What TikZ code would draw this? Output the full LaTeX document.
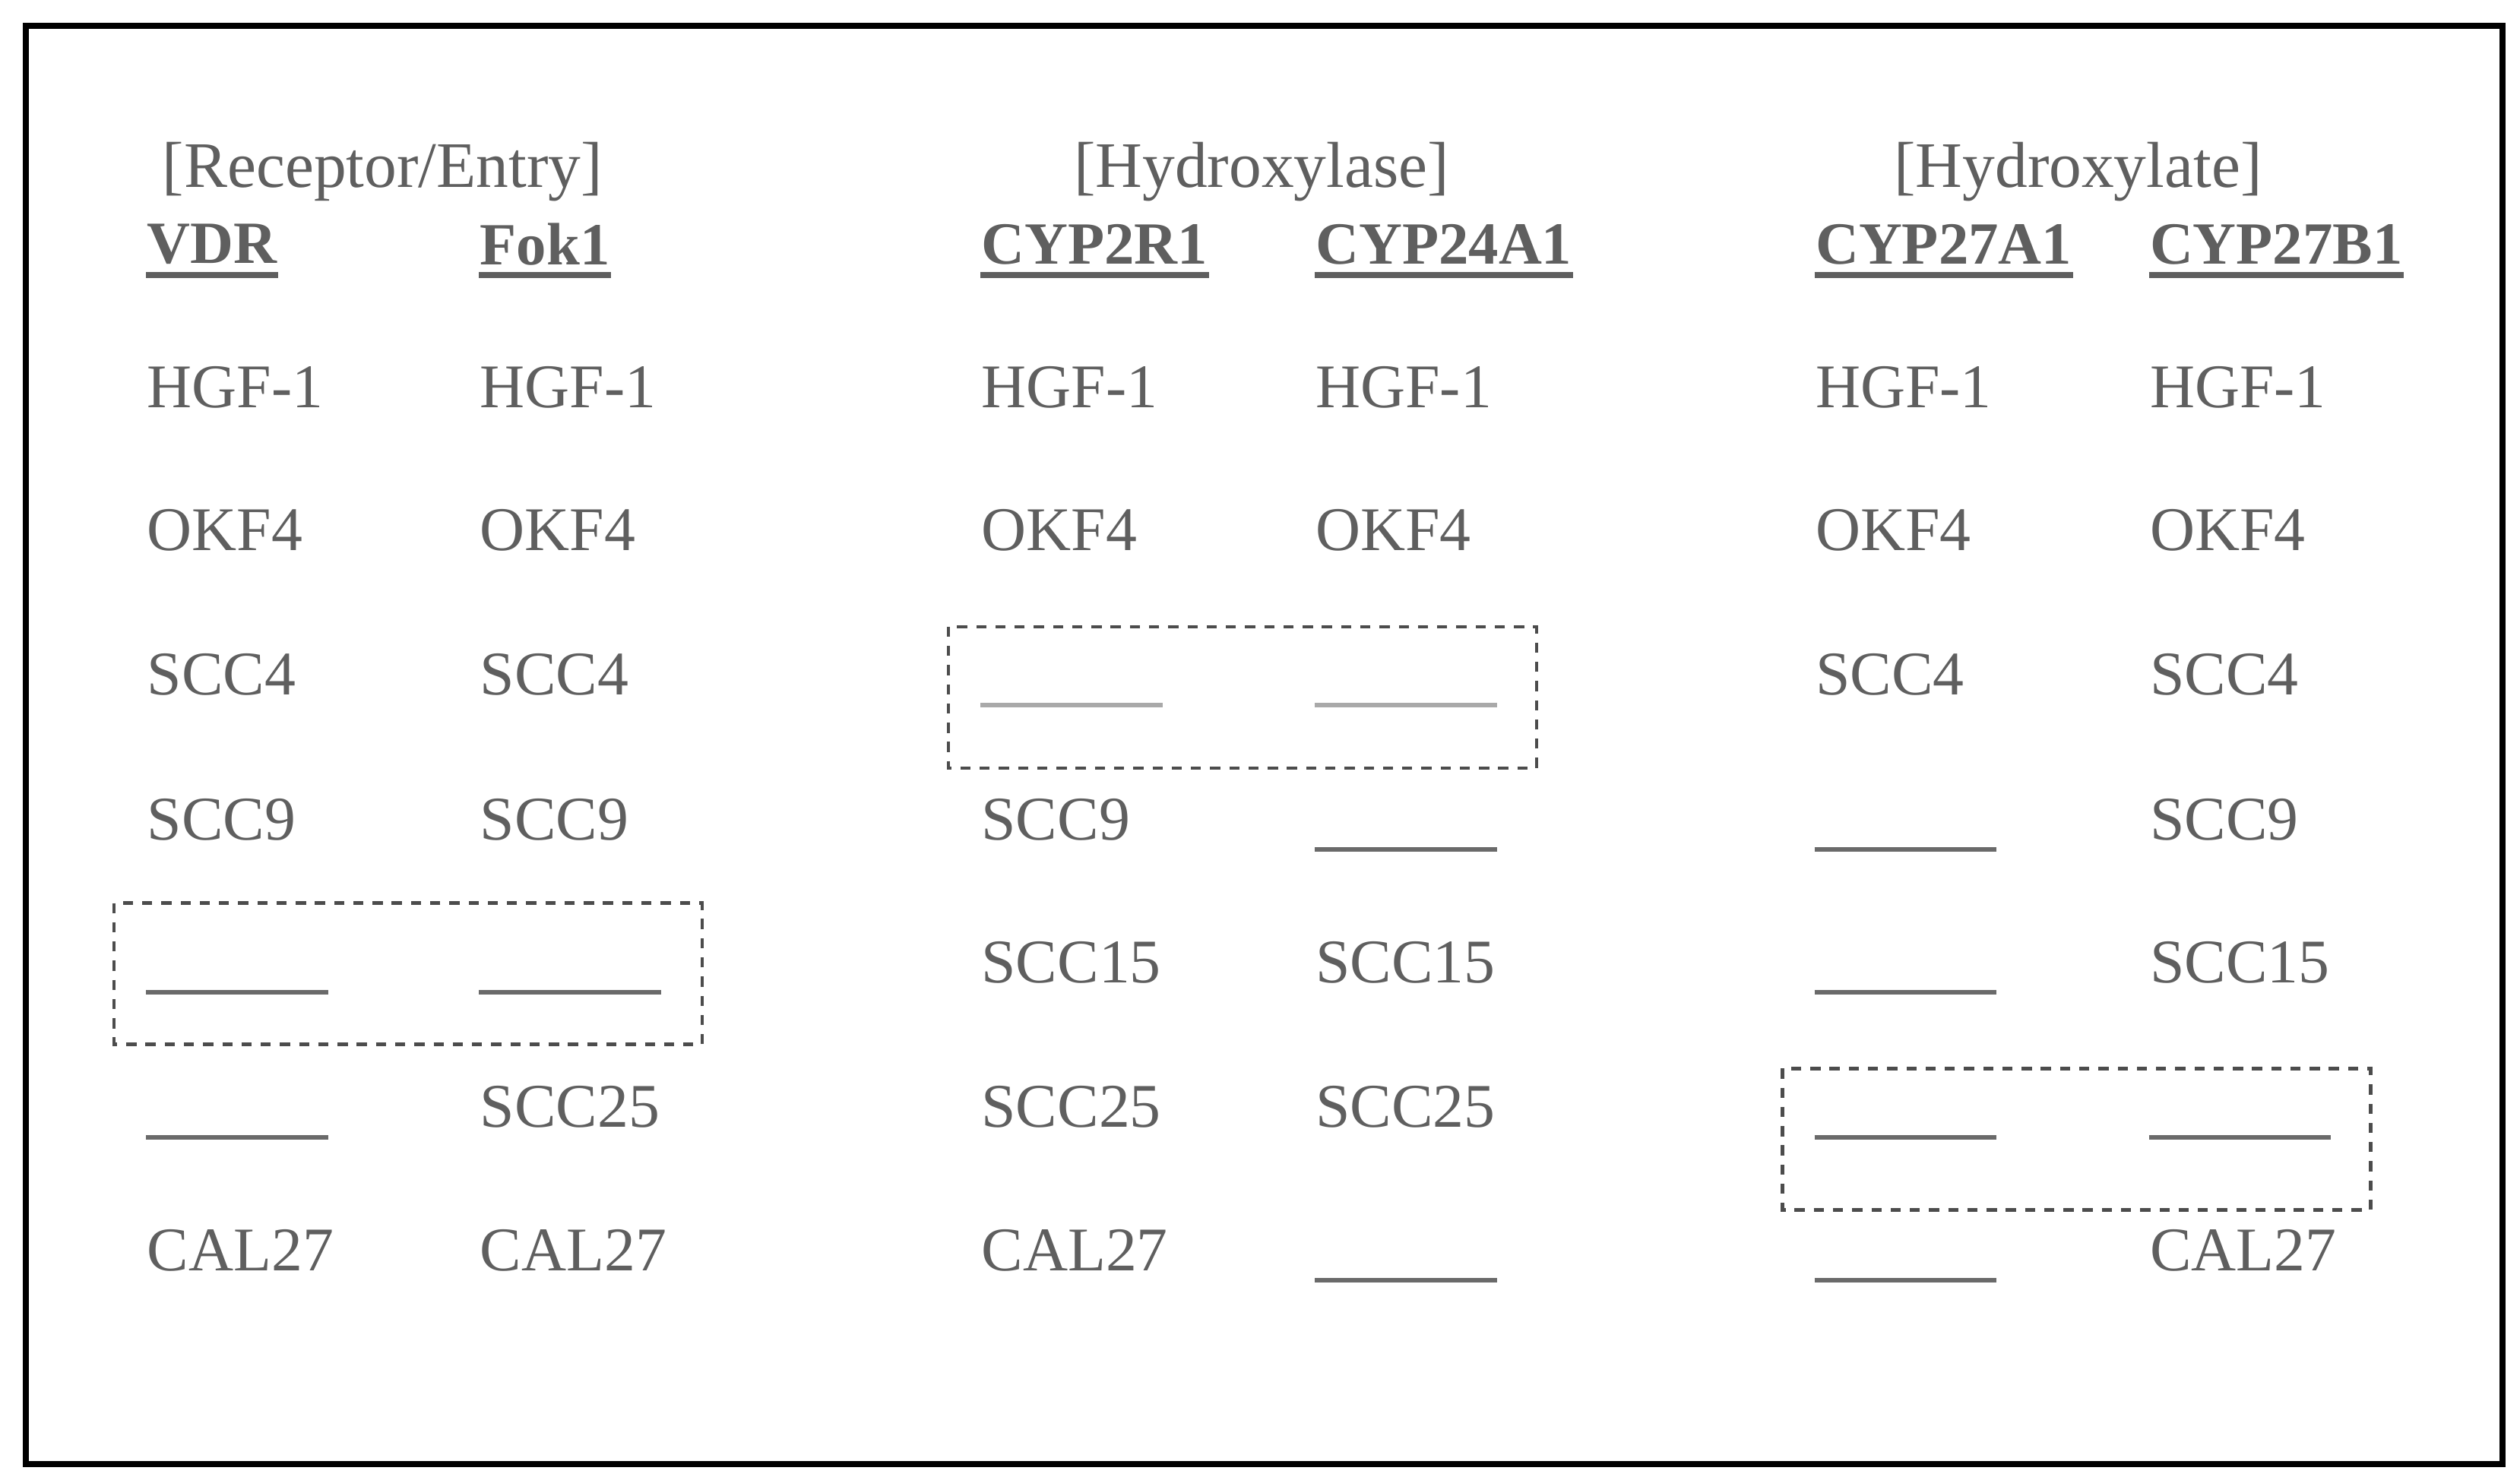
\documentclass[tikz,border=0pt]{standalone}
\usepackage{fontspec}
\setmainfont{Liberation Serif}
\definecolor{txtgray}{HTML}{5F5F5F}
\definecolor{nilgray}{HTML}{6A6A6A}
\definecolor{palegray}{HTML}{A9A9A9}
\tikzset{
    cell/.style={anchor=west, inner sep=0pt, text=txtgray, font=\fontsize{11}{13}\selectfont},
    gene/.style={cell, font=\fontsize{10.6}{13}\selectfont\bfseries},
    group/.style={inner sep=0pt, text=txtgray, font=\fontsize{11.5}{13}\selectfont},
    nil/.style={anchor=west, inner sep=0pt, minimum width=1.12cm, minimum height=0.36cm},
    nilline/.style={draw=nilgray, line width=0.8pt},
    uline/.style={draw=txtgray, line width=1.1pt},
    nullbox/.style={draw=black!70, line width=0.6pt, dash pattern=on 1.8pt off 1.6pt}
}
\begin{document}
\begin{tikzpicture}
    \useasboundingbox (0,0) rectangle (15.68,-9.192);
    \draw[line width=1.1pt] (0.16,-0.16) rectangle (15.57,-9.11);

    % group labels
    \node[group] (recep) at (2.38,-1.07) {[Receptor/Entry]};
    \node[group] (hylase) at (7.85,-1.07) {[Hydroxylase]};
    \node[group] (hylate) at (12.93,-1.07) {[Hydroxylate]};

    % gene names
    \node[gene] (vdr) at (0.91,-1.52) {VDR};
    \node[gene] (fok) at (2.98,-1.52) {Fok1};
    \node[gene] (r2) at (6.10,-1.52) {CYP2R1};
    \node[gene] (a24) at (8.18,-1.52) {CYP24A1};
    \node[gene] (a27) at (11.29,-1.52) {CYP27A1};
    \node[gene] (b27) at (13.37,-1.52) {CYP27B1};
    \foreach \g in {vdr,fok,r2,a24,a27,b27}
        \draw[uline] ([yshift=-0.19cm]\g.west) -- ([yshift=-0.19cm]\g.east);

    % VDR
    \node[cell] (vdr1) at (0.91,-2.41) {HGF-1};
    \node[cell] (vdr2) at (0.91,-3.30) {OKF4};
    \node[cell] (vdr3) at (0.91,-4.20) {SCC4};
    \node[cell] (vdr4) at (0.91,-5.10) {SCC9};
    \node[nil]  (vdr5) at (0.91,-5.99) {};
    \node[nil]  (vdr6) at (0.91,-6.89) {};
    \node[cell] (vdr7) at (0.91,-7.78) {CAL27};

    % Fok1
    \node[cell] (fok1) at (2.98,-2.41) {HGF-1};
    \node[cell] (fok2) at (2.98,-3.30) {OKF4};
    \node[cell] (fok3) at (2.98,-4.20) {SCC4};
    \node[cell] (fok4) at (2.98,-5.10) {SCC9};
    \node[nil]  (fok5) at (2.98,-5.99) {};
    \node[cell] (fok6) at (2.98,-6.89) {SCC25};
    \node[cell] (fok7) at (2.98,-7.78) {CAL27};

    % CYP2R1
    \node[cell] (r21) at (6.10,-2.41) {HGF-1};
    \node[cell] (r22) at (6.10,-3.30) {OKF4};
    \node[nil]  (r23) at (6.10,-4.20) {};
    \node[cell] (r24) at (6.10,-5.10) {SCC9};
    \node[cell] (r25) at (6.10,-5.99) {SCC15};
    \node[cell] (r26) at (6.10,-6.89) {SCC25};
    \node[cell] (r27) at (6.10,-7.78) {CAL27};

    % CYP24A1
    \node[cell] (a241) at (8.18,-2.41) {HGF-1};
    \node[cell] (a242) at (8.18,-3.30) {OKF4};
    \node[nil]  (a243) at (8.18,-4.20) {};
    \node[nil]  (a244) at (8.18,-5.10) {};
    \node[cell] (a245) at (8.18,-5.99) {SCC15};
    \node[cell] (a246) at (8.18,-6.89) {SCC25};
    \node[nil]  (a247) at (8.18,-7.78) {};

    % CYP27A1
    \node[cell] (a271) at (11.29,-2.41) {HGF-1};
    \node[cell] (a272) at (11.29,-3.30) {OKF4};
    \node[cell] (a273) at (11.29,-4.20) {SCC4};
    \node[nil]  (a274) at (11.29,-5.10) {};
    \node[nil]  (a275) at (11.29,-5.99) {};
    \node[nil]  (a276) at (11.29,-6.89) {};
    \node[nil]  (a277) at (11.29,-7.78) {};

    % CYP27B1
    \node[cell] (b271) at (13.37,-2.41) {HGF-1};
    \node[cell] (b272) at (13.37,-3.30) {OKF4};
    \node[cell] (b273) at (13.37,-4.20) {SCC4};
    \node[cell] (b274) at (13.37,-5.10) {SCC9};
    \node[cell] (b275) at (13.37,-5.99) {SCC15};
    \node[nil]  (b276) at (13.37,-6.89) {};
    \node[cell] (b277) at (13.37,-7.78) {CAL27};

    % blanks
    \foreach \n in {vdr5,vdr6,fok5,a244,a247,a274,a275,a276,a277,b276}
        \draw[nilline] (\n.south west) -- (\n.south east);
    \foreach \n in {r23,a243}
        \draw[nilline, draw=palegray] (\n.south west) -- (\n.south east);

    % dashed boxes
    \draw[nullbox] (0.71,-5.62) rectangle (4.37,-6.50);
    \draw[nullbox] (5.90,-3.90) rectangle (9.56,-4.78);
    \draw[nullbox] (11.09,-6.65) rectangle (14.75,-7.53);
\end{tikzpicture}
\end{document}
